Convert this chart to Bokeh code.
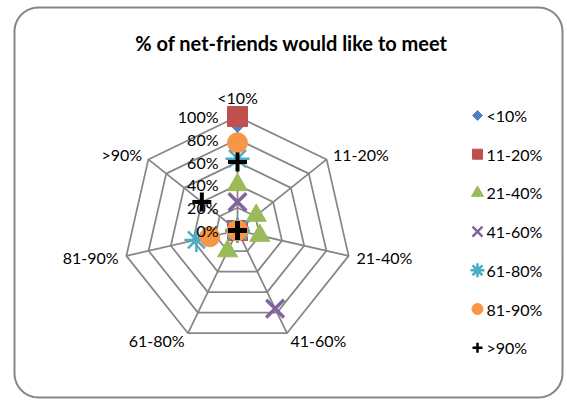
import numpy as np
from bokeh.plotting import figure
from bokeh.models import Range1d
from bokeh.core.properties import value
from bokeh.embed import file_html
from bokeh.resources import INLINE

# ---------------- data ----------------
categories = ["<10%", "11-20%", "21-40%", "41-60%", "61-80%", "81-90%", ">90%"]
series_names = ["<10%", "11-20%", "21-40%", "41-60%", "61-80%", "81-90%", ">90%"]
s_lt10 = [93, 4, 0, 0, 0, 0, 3]
s_11_20 = [100, 0, 0, 0, 0, 0, 0]
s_21_40 = [40, 21, 20, 0, 20, 0, 0]
s_41_60 = [25, 0, 0, 76, 0, 0, 0]
s_61_80 = [63, 0, 0, 0, 0, 37, 0]
s_81_90 = [77, 0, 0, 0, 0, 25, 0]
s_gt90 = [60, 0, 0, 0, 0, 0, 40]
series_values = [s_lt10, s_11_20, s_21_40, s_41_60, s_61_80, s_81_90, s_gt90]
radial_ticks = [0, 20, 40, 60, 80, 100]
radial_labels = ["0%", "20%", "40%", "60%", "80%", "100%"]
title_text = "% of net-friends would like to meet"

# ---------------- styles ----------------
styles = [
    dict(marker="square", size=11, angle=np.pi / 4, fill_color="#4F81BD", line_color="#4F81BD", line_width=1),
    dict(marker="square", size=20, fill_color="#C0504D", line_color="#C0504D", line_width=1),
    dict(marker="triangle", size=20, fill_color="#9BBB59", line_color="#9BBB59", line_width=1),
    dict(marker="x", size=25, fill_color=None, line_color="#8064A2", line_width=3.5),
    dict(marker="asterisk", size=24, fill_color=None, line_color="#4BACC6", line_width=2.5),
    dict(marker="circle", size=20, fill_color="#F79646", line_color="#F79646", line_width=1),
    dict(marker="cross", size=19, fill_color=None, line_color="black", line_width=4),
]
leg_styles = [
    dict(marker="square", size=7, angle=np.pi / 4, fill_color="#4F81BD", line_color="#4F81BD", line_width=1),
    dict(marker="square", size=10, fill_color="#C0504D", line_color="#C0504D", line_width=1),
    dict(marker="triangle", size=12, fill_color="#9BBB59", line_color="#9BBB59", line_width=1),
    dict(marker="x", size=14, fill_color=None, line_color="#8064A2", line_width=2.5),
    dict(marker="asterisk", size=14, fill_color=None, line_color="#4BACC6", line_width=2.5),
    dict(marker="circle", size=11, fill_color="#F79646", line_color="#F79646", line_width=1),
    dict(marker="cross", size=10, fill_color=None, line_color="black", line_width=2.5),
]

W, H = 567, 400
CX, CY = 237, 230      # radar centre in pixels
RPX = 114              # pixel radius of 100%
S = RPX / 100.0        # pixels per percent
GRID = "#868686"
FONT = value("Lato")


def dx(x):
    return (x - CX) / S


def dy(y):
    return (CY - y) / S


p = figure(width=W, height=H, output_backend="svg", toolbar_location=None,
           x_range=Range1d(-CX / S, (W - CX) / S), y_range=Range1d(-(H - CY) / S, CY / S),
           x_axis_type=None, y_axis_type=None, min_border=0,
           background_fill_color="white", border_fill_color="white", outline_line_color=None)
p.grid.visible = False

# ---------------- chart border (rounded rectangle) ----------------
def rounded_rect(x0, y0, x1, y1, r, n=16):
    pts = []
    for (cx, cy, a0, a1) in [(x1 - r, y0 + r, -90, 0), (x1 - r, y1 - r, 0, 90),
                             (x0 + r, y1 - r, 90, 180), (x0 + r, y0 + r, 180, 270)]:
        a = np.radians(np.linspace(a0, a1, n))
        pts += list(zip(cx + r * np.cos(a), cy + r * np.sin(a)))
    pts.append(pts[0])
    xs = [dx(q[0]) for q in pts]
    ys = [dy(q[1]) for q in pts]
    return xs, ys

bx, by = rounded_rect(14, 7, 562, 397, 24)
p.line(bx, by, line_color=GRID, line_width=2)

# ---------------- radar grid ----------------
n = len(categories)
theta = 2 * np.pi * np.arange(n) / n
sin_t, cos_t = np.sin(theta), np.cos(theta)
top = radial_ticks[-1]

ring_xs, ring_ys = [], []
for lv in radial_ticks[1:]:
    ring_xs.append(list(lv * sin_t) + [lv * sin_t[0]])
    ring_ys.append(list(lv * cos_t) + [lv * cos_t[0]])
p.multi_line(ring_xs, ring_ys, line_color=GRID, line_width=1.75)
p.segment(x0=np.zeros(n), y0=np.zeros(n), x1=top * sin_t, y1=top * cos_t,
          line_color=GRID, line_width=1.75)

# category labels
lab_r = top + 8 / S
lx, ly = lab_r * sin_t, lab_r * cos_t
for k, cat in enumerate(categories):
    if k == 0:
        p.text(x=[lx[k]], y=[dy(106)], text=[cat], text_font=FONT, text_font_size="16px",
               text_align="center", text_baseline="bottom", text_color="black")
    else:
        p.text(x=[lx[k]], y=[ly[k]], text=[cat], text_font=FONT, text_font_size="16px",
               text_align="left" if sin_t[k] > 0 else "right",
               text_baseline="middle", text_color="black")

# ---------------- series markers ----------------
for vals, st in zip(series_values, styles):
    v = np.array(vals, dtype=float)
    p.scatter(v * sin_t, v * cos_t, **st)

# radial tick labels (drawn above the markers, as in the original)
p.text(x=[dx(CX - 19)] * len(radial_ticks), y=radial_ticks, text=radial_labels,
       text_font=FONT, text_font_size="16px", text_align="right",
       text_baseline="middle", text_color="black")

# ---------------- legend ----------------
for i, (name, st) in enumerate(zip(series_names, leg_styles)):
    yy = dy(115 + 38.7 * i)
    p.scatter([dx(477)], [yy], **st)
    p.text(x=[dx(486)], y=[yy], text=[name], text_font=FONT, text_font_size="16px",
           text_align="left", text_baseline="middle", text_color="black")

# ---------------- title ----------------
p.text(x=[dx(291)], y=[dy(42)], text=[title_text], text_font=FONT, text_font_size="20px",
       text_font_style="bold", text_align="center", text_baseline="middle", text_color="black")

open("out.html", "w").write(file_html(p, INLINE))
